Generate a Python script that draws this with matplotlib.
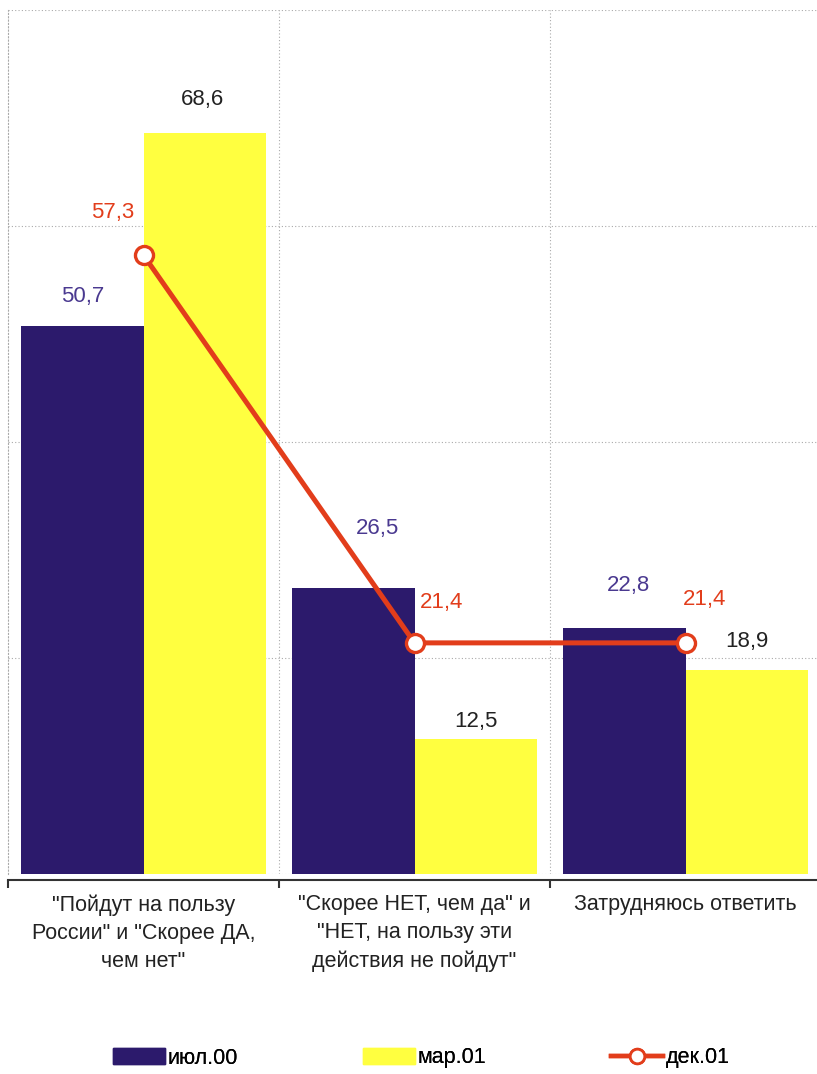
import matplotlib
matplotlib.use("Agg")
import matplotlib.pyplot as plt
import numpy as np
from matplotlib.patches import Patch
from matplotlib.lines import Line2D

categories = ['"Пойдут на пользу\nРоссии" и "Скорее ДА,\nчем нет"',
              '"Скорее НЕТ, чем да" и\n"НЕТ, на пользу эти\nдействия не пойдут"',
              'Затрудняюсь ответить']
jul00 = [50.7, 26.5, 22.8]
mar01 = [68.6, 12.5, 18.9]
dec01 = [57.3, 21.4, 21.4]
series_names = ['июл.00', 'мар.01', 'дек.01']

NAVY = '#2c1a6c'
NAVY_TXT = '#4a3990'
YELLOW = '#ffff40'
RED = '#e23d1b'

plt.rcParams['font.family'] = ['Liberation Sans', 'DejaVu Sans']

fig = plt.figure(figsize=(8.17, 10.74), dpi=100)
ax = fig.add_axes([8/817, (1074-874)/1074, 813/817, (874-10)/1074])

x = np.arange(len(categories))
w = 0.452
ax.bar(x - w/2, jul00, width=w, color=NAVY, zorder=2)
ax.bar(x + w/2, mar01, width=w, color=YELLOW, zorder=2)
ax.plot(x, dec01, color=RED, lw=3.6, marker='o', ms=13, mfc='white',
        mec=RED, mew=2.4, zorder=4)

ax.set_xlim(-0.5, 2.5)
ax.set_ylim(0, 80)
ax.set_yticks([0, 20, 40, 60, 80])
ax.set_yticklabels([])
ax.tick_params(axis='y', length=0)
ax.set_xticks([-0.5, 0.5, 1.5])
ax.set_xticklabels([])
ax.tick_params(axis='x', length=6, width=1.5, direction='out', color='#333333')
ax.grid(axis='y', color='#aaaaaa', ls=(0, (1, 2)), lw=0.8, zorder=0)
for xv in [0.5, 1.5]:
    ax.axvline(xv, color='#aaaaaa', ls=(0, (1, 2)), lw=0.8, zorder=0)
ax.spines['top'].set_visible(False)
ax.spines['right'].set_visible(False)
ax.spines['left'].set_color('#aaaaaa')
ax.spines['left'].set_linestyle((0, (1, 2)))
ax.spines['left'].set_linewidth(0.8)
ax.spines['bottom'].set_position(('outward', 4))
ax.spines['bottom'].set_linewidth(1.5)
ax.spines['bottom'].set_color('#333333')

# category labels
for i, c in enumerate(categories):
    ax.annotate(c, xy=(i, 0), xycoords=('data', 'axes fraction'),
                xytext=(0, -20), textcoords='offset pixels',
                ha='center', va='top', fontsize=15.5,
                linespacing=1.45, color='#222222')

fs = 16
# value label offsets in pixels (dx, dy) relative to data point
off_jul = [(0, 30), (24, 59), (4, 42)]
off_mar = [(-2, 34), (0, 18), (0, 28)]
off_dec = [(-31, 43), (27, 40), (19, 43)]
for i in range(3):
    ax.annotate(f"{jul00[i]:.1f}".replace('.', ','), xy=(x[i] - w/2, jul00[i]),
                xytext=off_jul[i], textcoords='offset pixels',
                ha='center', va='center', fontsize=fs, color=NAVY_TXT)
    ax.annotate(f"{mar01[i]:.1f}".replace('.', ','), xy=(x[i] + w/2, mar01[i]),
                xytext=off_mar[i], textcoords='offset pixels',
                ha='center', va='center', fontsize=fs, color='#222222')
    ax.annotate(f"{dec01[i]:.1f}".replace('.', ','), xy=(x[i], dec01[i]),
                xytext=off_dec[i], textcoords='offset pixels',
                ha='center', va='center', fontsize=fs, color=RED)

# legend (three separate entries placed along the bottom)
handles = [Patch(color=NAVY), Patch(color=YELLOW),
           Line2D([0], [0], color=RED, lw=3.2, marker='o', ms=10.5, mfc='white', mec=RED, mew=2)]
leg_x = [113/817, 363/817, 611/817]
leg_y = (1074-1058)/1074
for h, name, lx in zip(handles, series_names, leg_x):
    lg = fig.legend([h], [name], loc='center left', bbox_to_anchor=(lx, leg_y),
                    frameon=False, fontsize=15.5, handlelength=2.4, handleheight=0.7,
                    handletextpad=0.15, borderpad=0, borderaxespad=0)
    fig.add_artist(lg)

fig.savefig('out.png', dpi=100)
